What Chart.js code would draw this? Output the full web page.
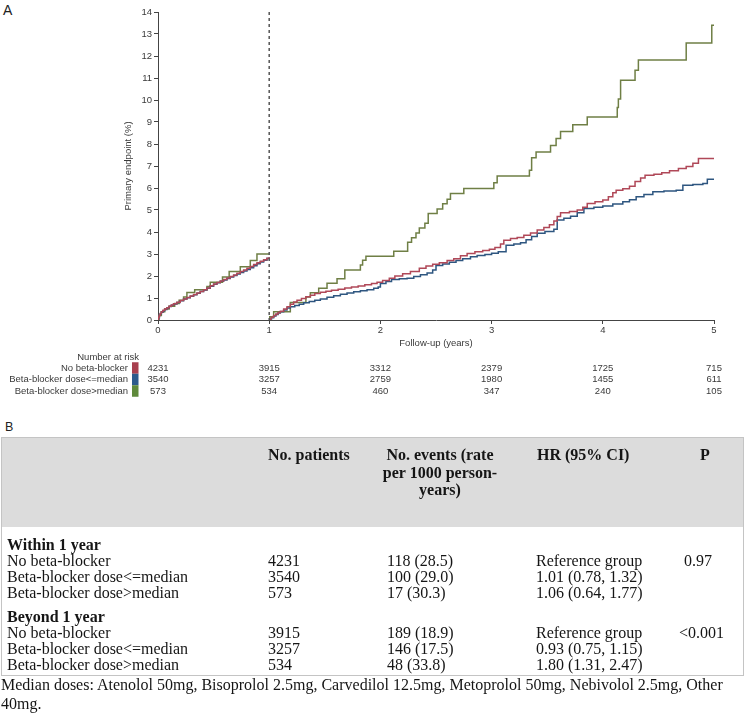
<!DOCTYPE html>
<html>
<head>
<meta charset="utf-8">
<script src="https://cdn.jsdelivr.net/npm/chart.js@4.4.1/dist/chart.umd.min.js"></script>
<style>
  body { margin: 0; background: #fff; width: 745px; height: 715px; position: relative; overflow: hidden; }
  #chartBox { position: absolute; left: 0; top: 0; width: 745px; height: 410px; }
  .panel { position: absolute; font-family: Arial, "Liberation Sans", sans-serif; color: #222; }
  #tableB { position: absolute; left: 0; top: 0; width: 745px; height: 715px;
            font-family: "Liberation Serif", "Times New Roman", serif; font-size: 16px; color: #151515; }
  #tableB .c { position: absolute; white-space: nowrap; line-height: 18px; }
  #tableB .b { font-weight: bold; }
</style>
</head>
<body>
<div class="panel" style="left:3px;top:2px;font-size:14px;">A</div>
<div id="chartBox"><canvas id="km"></canvas></div>
<div class="panel" style="left:5px;top:420px;font-size:12.5px;">B</div>
<div id="tableB"></div>

<script>
// number at risk
const riskYears = [0, 1, 2, 3, 4, 5];
const riskNoBB = [4231, 3915, 3312, 2379, 1725, 715];
const riskLowDose = [3540, 3257, 2759, 1980, 1455, 611];
const riskHighDose = [573, 534, 460, 347, 240, 105];

const groupNames = ['No beta-blocker', 'Beta-blocker dose<=median', 'Beta-blocker dose>median'];
const groupColors = ['#a8404f', '#2d5b8c', '#5f8a3c'];
const lineColors = ['#b04858', '#2e5680', '#6f7f45'];

// cumulative incidence (%), [year, value] - first year, then landmark from year 1
const noBBYear1 = [[0,0],[0.005,0.12],[0.012,0.22],[0.02,0.3],[0.03,0.37],[0.045,0.44],[0.06,0.5],[0.08,0.56],[0.1,0.62],[0.12,0.68],[0.14,0.74],[0.17,0.81],[0.2,0.89],[0.23,0.96],[0.26,1.02],[0.29,1.09],[0.32,1.16],[0.35,1.23],[0.38,1.3],[0.41,1.38],[0.44,1.46],[0.47,1.56],[0.5,1.64],[0.53,1.7],[0.56,1.77],[0.59,1.84],[0.62,1.91],[0.65,1.98],[0.68,2.05],[0.71,2.12],[0.74,2.2],[0.77,2.27],[0.8,2.35],[0.83,2.43],[0.86,2.52],[0.89,2.6],[0.92,2.67],[0.95,2.74],[0.98,2.81],[1.0,2.85]];
const noBBAfter = [[1,0],[1.01,0.06],[1.02,0.12],[1.04,0.2],[1.06,0.27],[1.08,0.34],[1.1,0.4],[1.13,0.5],[1.16,0.6],[1.19,0.72],[1.22,0.82],[1.25,0.9],[1.29,0.98],[1.33,1.06],[1.37,1.13],[1.41,1.2],[1.46,1.26],[1.51,1.31],[1.56,1.35],[1.62,1.4],[1.68,1.45],[1.74,1.5],[1.8,1.55],[1.86,1.6],[1.92,1.66],[1.97,1.72],[2.02,1.8],[2.08,1.9],[2.13,2.0],[2.2,2.1],[2.27,2.2],[2.35,2.35],[2.41,2.45],[2.47,2.53],[2.53,2.6],[2.6,2.7],[2.66,2.78],[2.72,2.92],[2.78,3.02],[2.85,3.1],[2.92,3.16],[2.98,3.22],[3.03,3.3],[3.08,3.45],[3.11,3.63],[3.17,3.7],[3.23,3.75],[3.29,3.85],[3.35,3.95],[3.41,4.09],[3.47,4.2],[3.52,4.33],[3.56,4.5],[3.59,4.7],[3.62,4.87],[3.7,4.93],[3.77,5.0],[3.82,5.12],[3.86,5.3],[3.93,5.38],[4.0,5.45],[4.05,5.6],[4.09,5.78],[4.12,5.9],[4.18,5.97],[4.24,6.08],[4.29,6.3],[4.34,6.45],[4.38,6.58],[4.46,6.62],[4.53,6.69],[4.6,6.78],[4.68,6.89],[4.75,6.98],[4.81,7.12],[4.86,7.34],[5.0,7.34]];

const lowDoseYear1 = [[0,0],[0.005,0.1],[0.012,0.2],[0.02,0.28],[0.03,0.35],[0.045,0.42],[0.06,0.48],[0.08,0.55],[0.1,0.61],[0.12,0.67],[0.14,0.73],[0.17,0.8],[0.2,0.88],[0.23,0.95],[0.26,1.01],[0.29,1.08],[0.32,1.15],[0.35,1.22],[0.38,1.29],[0.41,1.36],[0.44,1.44],[0.47,1.53],[0.5,1.62],[0.53,1.69],[0.56,1.76],[0.59,1.82],[0.62,1.89],[0.65,1.96],[0.68,2.02],[0.71,2.09],[0.74,2.16],[0.77,2.23],[0.8,2.3],[0.83,2.38],[0.86,2.47],[0.89,2.56],[0.92,2.64],[0.95,2.72],[0.98,2.8],[1.0,2.85]];
const lowDoseAfter = [[1,0],[1.01,0.05],[1.02,0.1],[1.04,0.18],[1.06,0.25],[1.08,0.32],[1.1,0.38],[1.13,0.46],[1.16,0.54],[1.19,0.6],[1.23,0.66],[1.27,0.72],[1.31,0.78],[1.36,0.84],[1.41,0.9],[1.46,0.96],[1.52,1.03],[1.58,1.1],[1.64,1.17],[1.7,1.23],[1.76,1.28],[1.82,1.33],[1.88,1.38],[1.94,1.44],[1.98,1.5],[2.0,1.66],[2.05,1.75],[2.1,1.84],[2.17,1.87],[2.24,1.9],[2.3,1.98],[2.36,2.06],[2.42,2.14],[2.47,2.27],[2.5,2.48],[2.56,2.55],[2.62,2.63],[2.68,2.7],[2.74,2.78],[2.81,2.87],[2.87,2.93],[2.94,2.98],[3.0,3.03],[3.06,3.1],[3.13,3.4],[3.2,3.45],[3.26,3.51],[3.31,3.65],[3.36,3.8],[3.41,3.94],[3.48,4.02],[3.56,4.12],[3.59,4.54],[3.65,4.62],[3.71,4.72],[3.77,4.88],[3.83,5.07],[3.92,5.12],[4.0,5.18],[4.09,5.27],[4.18,5.37],[4.24,5.47],[4.3,5.6],[4.37,5.7],[4.45,5.83],[4.55,5.86],[4.66,5.9],[4.72,6.13],[4.81,6.16],[4.9,6.2],[4.94,6.4],[5.0,6.4]];

const highDoseYear1 = [[0,0],[0.01,0.2],[0.03,0.38],[0.06,0.5],[0.1,0.63],[0.15,0.75],[0.19,0.9],[0.23,1.05],[0.26,1.25],[0.33,1.38],[0.44,1.52],[0.47,1.72],[0.58,1.95],[0.64,2.2],[0.74,2.42],[0.83,2.7],[0.89,3.0],[1.0,3.0]];
const highDoseAfter = [[1,0],[1.005,0.15],[1.04,0.38],[1.19,0.8],[1.33,1.05],[1.37,1.24],[1.445,1.44],[1.52,1.67],[1.61,1.87],[1.68,2.27],[1.82,2.5],[1.84,2.72],[1.87,2.9],[2.12,3.13],[2.245,3.53],[2.28,3.74],[2.32,3.96],[2.35,4.18],[2.4,4.4],[2.43,4.84],[2.51,5.05],[2.56,5.28],[2.6,5.49],[2.63,5.75],[2.75,5.98],[3.02,6.24],[3.05,6.54],[3.34,6.81],[3.36,7.37],[3.4,7.64],[3.53,7.93],[3.58,8.25],[3.62,8.57],[3.73,8.87],[3.86,9.23],[4.13,9.66],[4.14,10.05],[4.16,10.9],[4.29,11.35],[4.32,11.82],[4.75,12.59],[4.98,13.4],[5.0,13.4]];

const yTicks = [0,1,2,3,4,5,6,7,8,9,10,11,12,13,14];
const landmarkYear = 1;

// table B
const sectionTitles = ['Within 1 year', 'Beyond 1 year'];
const patientsWithin = ['4231', '3540', '573'];
const eventsWithin = ['118 (28.5)', '100 (29.0)', '17 (30.3)'];
const hrWithin = ['Reference group', '1.01 (0.78, 1.32)', '1.06 (0.64, 1.77)'];
const pWithin = '0.97';
const patientsBeyond = ['3915', '3257', '534'];
const eventsBeyond = ['189 (18.9)', '146 (17.5)', '48 (33.8)'];
const hrBeyond = ['Reference group', '0.93 (0.75, 1.15)', '1.80 (1.31, 2.47)'];
const pBeyond = '<0.001';
const footnote = 'Median doses: Atenolol 50mg, Bisoprolol 2.5mg, Carvedilol 12.5mg, Metoprolol 50mg, Nebivolol 2.5mg, Other 40mg.';

const FONT = 'Arial, "Liberation Sans", sans-serif';
const TXT = '#3a3a3a';

function toPoints(first, after) {
    return [...first.map(([x, y]) => ({ x, y })), { x: landmarkYear, y: null }, ...after.map(([x, y]) => ({ x, y }))];
}

const landmarkLine = {
    id: 'landmarkLine',
    afterDatasetsDraw(chart) {
        const { ctx, scales: { x, y } } = chart;
        const px = x.getPixelForValue(landmarkYear);
        ctx.save();
        ctx.setLineDash([3, 3]);
        ctx.strokeStyle = '#555';
        ctx.lineWidth = 1.5;
        ctx.beginPath();
        ctx.moveTo(px, y.getPixelForValue(14));
        ctx.lineTo(px, y.getPixelForValue(0));
        ctx.stroke();
        ctx.restore();
    }
};

// number at risk under the x axis
const riskTable = {
    id: 'riskTable',
    afterDraw(chart) {
        const { ctx, scales: { x }, chartArea } = chart;
        const base = chartArea.bottom;
        const rows = [riskNoBB, riskLowDose, riskHighDose];
        ctx.save();
        ctx.font = '9.5px ' + FONT;
        ctx.textBaseline = 'middle';
        ctx.fillStyle = TXT;
        ctx.textAlign = 'right';
        ctx.fillText('Number at risk', 139, base + 37);
        rows.forEach((row, i) => {
            const yy = base + 48 + i * 11.5;
            ctx.fillStyle = TXT;
            ctx.textAlign = 'right';
            ctx.fillText(groupNames[i], 128, yy);
            ctx.fillStyle = groupColors[i];
            ctx.fillRect(132, yy - 5.75, 6.5, 11.5);
            ctx.fillStyle = TXT;
            ctx.textAlign = 'center';
            row.forEach((n, j) => ctx.fillText(String(n), x.getPixelForValue(riskYears[j]), yy));
        });
        ctx.restore();
    }
};

new Chart(document.getElementById('km'), {
    type: 'line',
    data: {
        datasets: [
            { label: groupNames[0], data: toPoints(noBBYear1, noBBAfter), borderColor: lineColors[0] },
            { label: groupNames[1], data: toPoints(lowDoseYear1, lowDoseAfter), borderColor: lineColors[1] },
            { label: groupNames[2], data: toPoints(highDoseYear1, highDoseAfter), borderColor: lineColors[2] }
        ]
    },
    options: {
        responsive: true,
        maintainAspectRatio: false,
        animation: false,
        parsing: false,
        spanGaps: false,
        elements: {
            line: { stepped: true, borderWidth: 1.5, tension: 0 },
            point: { radius: 0 }
        },
        layout: { padding: { left: 119, right: 31, top: 12, bottom: 60 } },
        plugins: { legend: { display: false }, tooltip: { enabled: false } },
        scales: {
            x: {
                type: 'linear', min: 0, max: 5,
                afterBuildTicks: (s) => { s.ticks = riskYears.map(v => ({ value: v })); },
                afterFit: (s) => { s.height = 30; },
                grid: { drawOnChartArea: false, drawTicks: true, tickLength: 4, color: '#444' },
                border: { display: true, color: '#444', width: 1 },
                ticks: { padding: 1, color: TXT, font: { size: 9.5, family: FONT } },
                title: { display: true, text: 'Follow-up (years)', color: TXT, font: { size: 9.5, family: FONT }, padding: { top: 0, bottom: 1 } }
            },
            y: {
                min: 0, max: 14,
                afterBuildTicks: (s) => { s.ticks = yTicks.map(v => ({ value: v })); },
                afterFit: (s) => { s.width = 39; },
                grid: { drawOnChartArea: false, drawTicks: true, tickLength: 4, color: '#444' },
                border: { display: true, color: '#444', width: 1 },
                ticks: { padding: 2, color: TXT, font: { size: 9.5, family: FONT } },
                title: { display: true, text: 'Primary endpoint (%)', color: TXT, font: { size: 9.5, family: FONT }, padding: { top: 4, bottom: 4 } }
            }
        }
    },
    plugins: [landmarkLine, riskTable]
});

// ---- table B ----
const tb = document.getElementById('tableB');
function cell(text, left, cy, cls) {
    const d = document.createElement('div');
    d.className = 'c' + (cls ? ' ' + cls : '');
    d.textContent = text;
    d.style.left = left + 'px';
    d.style.top = (cy - 9) + 'px';
    tb.appendChild(d);
    return d;
}
function box(left, top, w, h, css) {
    const d = document.createElement('div');
    d.style.cssText = 'position:absolute;left:' + left + 'px;top:' + top + 'px;width:' + w + 'px;height:' + h + 'px;' + css;
    tb.appendChild(d);
}
box(1, 437, 742, 90, 'background:#dcdcdc;');
box(1, 437, 741, 237, 'border:1px solid #c4c4c4;');

cell('No. patients', 268, 455, 'b');
const ev = document.createElement('div');
ev.className = 'c b';
ev.style.cssText = 'left:380px;top:446px;width:120px;text-align:center;line-height:17.5px;white-space:normal;';
ev.innerHTML = 'No. events (rate<br>per 1000 person-<br>years)';
tb.appendChild(ev);
cell('HR (95% CI)', 537, 455, 'b');
cell('P', 700, 455, 'b');

function section(title, cyTitle, patients, events, hr, p, pLeft) {
    cell(title, 7, cyTitle, 'b');
    groupNames.forEach((g, i) => {
        const cy = cyTitle + 16 + i * 16;
        cell(g, 7, cy);
        cell(patients[i], 268, cy);
        cell(events[i], 387, cy);
        cell(hr[i], 536, cy);
        if (i === 0) cell(p, pLeft, cy);
    });
}
section(sectionTitles[0], 545, patientsWithin, eventsWithin, hrWithin, pWithin, 684);
section(sectionTitles[1], 617, patientsBeyond, eventsBeyond, hrBeyond, pBeyond, 679);

const fn = document.createElement('div');
fn.className = 'c';
fn.style.cssText = 'left:1px;top:675px;width:725px;white-space:normal;line-height:19px;';
fn.textContent = footnote;
tb.appendChild(fn);
</script>
</body>
</html>
